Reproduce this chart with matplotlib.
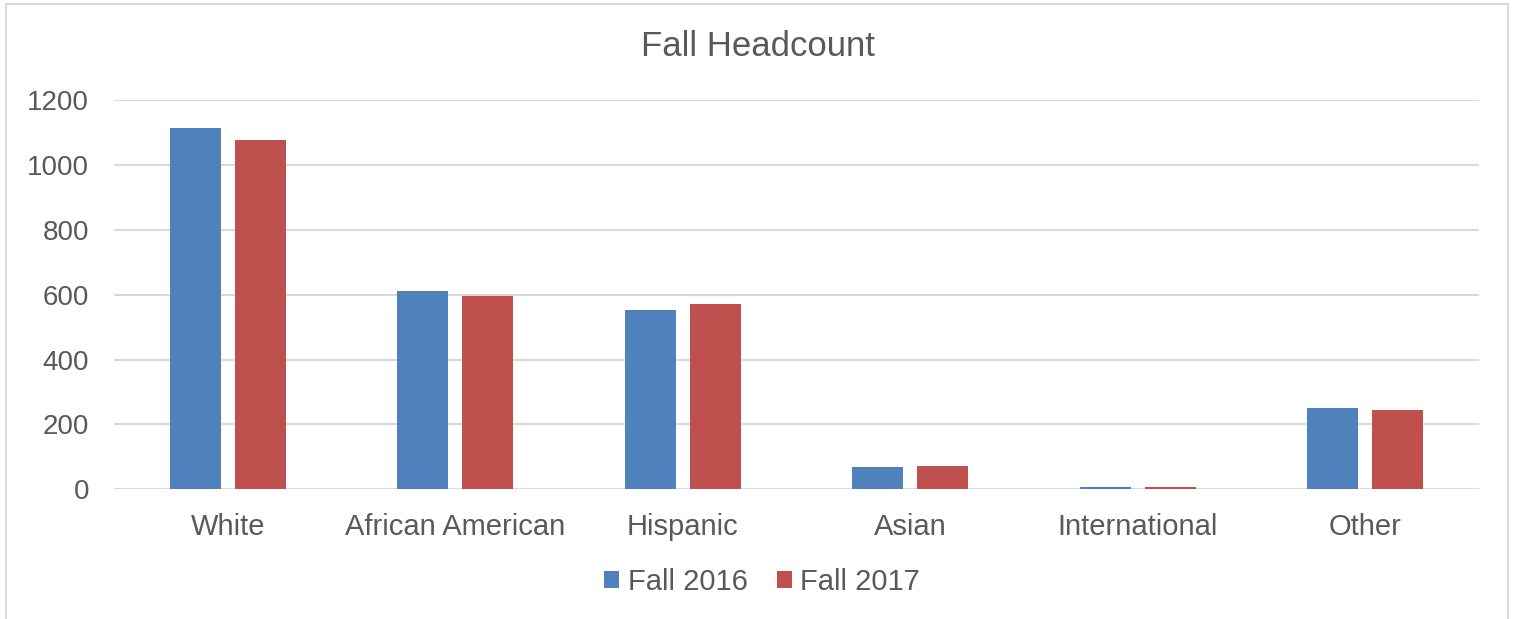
import matplotlib
matplotlib.use("Agg")
import matplotlib.pyplot as plt
import numpy as np
from matplotlib.patches import Rectangle

# Data
categories = ["White", "African American", "Hispanic", "Asian", "International", "Other"]
fall_2016 = [1114, 612, 554, 70, 7, 252]
fall_2017 = [1077, 596, 570, 72, 6, 243]
series_labels = ["Fall 2016", "Fall 2017"]
y_ticks = [0, 200, 400, 600, 800, 1000, 1200]

BLUE = "#4f81bd"
RED = "#c0504d"
TEXT = "#595959"
GRID = "#d9d9d9"

plt.rcParams["font.family"] = ["Liberation Sans", "DejaVu Sans"]

W, H = 1516, 619
fig = plt.figure(figsize=(W / 100, H / 100), dpi=100)

# plot area in pixels: left 114, right 1479, top 100, bottom 489
ax = fig.add_axes([114 / W, 1 - 489.3 / H, (1479 - 114) / W, (489.3 - 100) / H])

x = np.arange(len(categories))
bar_w = 0.225
offset = 0.1435
ax.bar(x - offset, fall_2016, width=bar_w, color=BLUE, label=series_labels[0], zorder=3)
ax.bar(x + offset, fall_2017, width=bar_w, color=RED, label=series_labels[1], zorder=3)

ax.set_xlim(-0.5, len(categories) - 0.5)
ax.set_ylim(0, 1200)
ax.set_yticks(y_ticks)
ax.set_xticks(x)
ax.set_xticklabels(categories)
ax.tick_params(axis="both", length=0, colors=TEXT)
ax.tick_params(axis="y", labelsize=20, pad=18)
ax.tick_params(axis="x", labelsize=21, pad=17)
ax.grid(axis="y", color=GRID, linewidth=1.5, zorder=0)
for s in ax.spines.values():
    s.set_visible(False)

fig.text(0.5, 1 - 47 / H, "Fall Headcount", ha="center", va="center",
         fontsize=25, color=TEXT)

leg = fig.legend(loc="center", bbox_to_anchor=(762 / W, 1 - 582 / H), ncol=2,
                 frameon=False, fontsize=21, handlelength=0.52, handleheight=0.52,
                 handletextpad=0.3, columnspacing=1.0)
for t in leg.get_texts():
    t.set_color(TEXT)

# light chart border
fig.patches.append(Rectangle((6 / W, -0.05), (1508 - 6) / W, 1.05 - 4 / H,
                             transform=fig.transFigure, fill=False,
                             edgecolor="#d9d9d9", linewidth=1.5))

fig.savefig("out.png", dpi=100, facecolor="white")
